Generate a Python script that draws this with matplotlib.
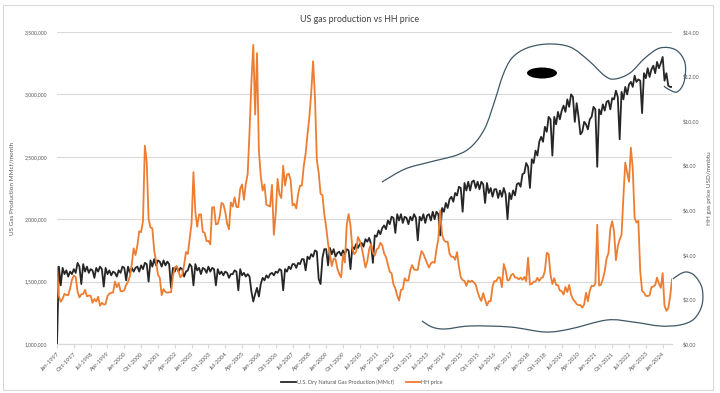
import numpy as np
import pandas as pd
import matplotlib
matplotlib.use("Agg")
import matplotlib.pyplot as plt
from matplotlib.path import Path
from matplotlib.patches import PathPatch, Ellipse, Rectangle
from matplotlib.ticker import FuncFormatter, MultipleLocator

plt.rcParams['font.family'] = ['Lato', 'DejaVu Sans']

# monthly categories Jan-1997 .. Jun-2024
months = pd.date_range("1997-01-01", "2024-06-01", freq="MS")
tick_labels = [d.strftime("%b-%Y") for d in months[::9]]

# U.S. dry natural gas production, thousand MMcf per month
prod_k = [
    1000, 1620, 1470, 1610, 1560, 1590, 1540, 1580, 1560, 1600, 1570, 1650,  # 1997
    1620, 1480, 1640, 1580, 1620, 1570, 1600, 1590, 1530, 1610, 1580, 1620,  # 1998
    1600, 1460, 1610, 1560, 1590, 1550, 1580, 1570, 1540, 1590, 1570, 1620,  # 1999
    1610, 1510, 1620, 1570, 1610, 1580, 1610, 1620, 1580, 1630, 1600, 1650,  # 2000
    1640, 1500, 1670, 1620, 1680, 1630, 1670, 1660, 1620, 1670, 1630, 1660,  # 2001
    1640, 1450, 1610, 1580, 1620, 1580, 1610, 1600, 1540, 1580, 1590, 1640,  # 2002
    1620, 1470, 1640, 1590, 1610, 1560, 1610, 1600, 1570, 1620, 1580, 1610,  # 2003
    1600, 1470, 1600, 1560, 1580, 1550, 1580, 1570, 1530, 1560, 1560, 1590,  # 2004
    1580, 1430, 1600, 1550, 1570, 1540, 1560, 1540, 1420, 1340, 1400, 1450,  # 2005
    1380, 1480, 1530, 1510, 1550, 1530, 1560, 1570, 1550, 1580, 1570, 1600,  # 2006
    1590, 1430, 1600, 1580, 1620, 1600, 1640, 1640, 1610, 1650, 1640, 1680,  # 2007
    1680, 1590, 1700, 1680, 1720, 1700, 1750, 1740, 1520, 1480, 1690, 1760,  # 2008
    1760, 1630, 1770, 1720, 1760, 1700, 1730, 1740, 1710, 1750, 1720, 1760,  # 2009
    1750, 1600, 1780, 1760, 1800, 1770, 1800, 1810, 1780, 1840, 1820, 1850,  # 2010
    1800, 1650, 1870, 1860, 1910, 1880, 1930, 1950, 1920, 1990, 1960, 2020,  # 2011
    2010, 1890, 2040, 1990, 2040, 1970, 2020, 2010, 1960, 2020, 1990, 2040,  # 2012
    2010, 1830, 2020, 1990, 2040, 1970, 2030, 2040, 1990, 2060, 2000, 2060,  # 2013
    2040, 1870, 2090, 2060, 2130, 2090, 2160, 2180, 2140, 2210, 2190, 2260,  # 2014
    2250, 2060, 2290, 2230, 2300, 2230, 2300, 2310, 2250, 2300, 2240, 2300,  # 2015
    2280, 2130, 2290, 2210, 2250, 2180, 2240, 2240, 2170, 2230, 2180, 2250,  # 2016
    2200, 2000, 2210, 2160, 2230, 2190, 2280, 2290, 2260, 2360, 2370, 2450,  # 2017
    2420, 2250, 2480, 2450, 2550, 2510, 2620, 2660, 2620, 2740, 2700, 2820,  # 2018
    2800, 2510, 2820, 2760, 2860, 2800, 2870, 2910, 2860, 2960, 2900, 3000,  # 2019
    2980, 2780, 2930, 2820, 2680, 2700, 2780, 2760, 2720, 2800, 2820, 2900,  # 2020
    2880, 2420, 2880, 2840, 2920, 2870, 2940, 2950, 2880, 2970, 2960, 3030,  # 2021
    2980, 2640, 3020, 2960, 3060, 3000, 3080, 3100, 3060, 3150, 3100, 3120,  # 2022
    3110, 2850, 3170, 3130, 3210, 3140, 3200, 3230, 3170, 3260, 3210, 3250,  # 2023
    3300, 3110, 3170, 3070, 3060, 3060,                                      # 2024
]

# Henry Hub monthly price, USD/mmbtu
hh_price = [
    3.45, 2.15, 1.89, 2.03, 2.25, 2.20, 2.19, 2.49, 2.88, 3.07, 3.01, 2.35,  # 1997
    2.09, 2.23, 2.24, 2.43, 2.14, 2.17, 2.17, 1.85, 2.02, 1.91, 2.12, 1.72,  # 1998
    1.85, 1.77, 1.79, 2.15, 2.26, 2.30, 2.31, 2.80, 2.55, 2.73, 2.37, 2.36,  # 1999
    2.42, 2.66, 2.79, 3.04, 3.59, 4.29, 3.99, 4.43, 5.06, 5.02, 5.52, 8.90,  # 2000
    8.17, 5.61, 5.23, 5.19, 4.19, 3.72, 3.11, 2.97, 2.19, 2.46, 2.34, 2.30,  # 2001
    2.32, 2.32, 3.03, 3.43, 3.50, 3.26, 2.99, 3.09, 3.55, 4.13, 4.04, 4.74,  # 2002
    5.43, 7.71, 5.93, 5.26, 5.81, 5.82, 5.03, 4.99, 4.62, 4.63, 4.47, 6.13,  # 2003
    6.14, 5.37, 5.39, 5.71, 6.33, 6.27, 5.93, 5.41, 5.15, 6.35, 6.17, 6.58,  # 2004
    6.15, 6.14, 6.96, 7.16, 6.47, 7.18, 7.63, 9.53, 11.75, 13.42, 10.30, 13.05,  # 2005
    8.69, 7.54, 6.89, 7.16, 6.25, 6.21, 6.17, 7.14, 4.90, 5.85, 7.41, 6.73,  # 2006
    6.55, 8.00, 7.11, 7.60, 7.64, 7.35, 6.22, 6.29, 6.08, 6.74, 7.10, 7.11,  # 2007
    7.99, 8.54, 9.41, 10.18, 11.27, 12.69, 11.09, 8.26, 7.67, 6.74, 6.68, 5.82,  # 2008
    5.24, 4.52, 4.00, 3.50, 3.83, 3.80, 3.38, 3.14, 2.99, 4.01, 3.66, 5.35,  # 2009
    5.83, 5.32, 4.29, 4.03, 4.14, 4.80, 4.63, 4.32, 3.89, 3.43, 3.71, 4.25,  # 2010
    4.49, 4.09, 3.97, 4.24, 4.31, 4.54, 4.42, 4.06, 3.90, 3.57, 3.24, 3.17,  # 2011
    2.67, 2.50, 2.17, 1.95, 2.43, 2.46, 2.95, 2.84, 2.85, 3.32, 3.54, 3.34,  # 2012
    3.33, 3.33, 3.81, 4.17, 4.04, 3.83, 3.62, 3.43, 3.62, 3.68, 3.64, 4.24,  # 2013
    4.71, 6.00, 4.90, 4.66, 4.58, 4.59, 4.05, 3.91, 3.92, 3.78, 4.12, 3.48,  # 2014
    2.99, 2.87, 2.83, 2.61, 2.85, 2.78, 2.84, 2.77, 2.66, 2.34, 2.09, 1.93,  # 2015
    2.28, 1.99, 1.73, 1.92, 1.92, 2.59, 2.82, 2.82, 2.99, 2.98, 2.55, 3.59,  # 2016
    3.30, 2.85, 2.88, 3.10, 3.15, 2.98, 2.98, 2.90, 2.98, 2.88, 3.01, 2.82,  # 2017
    3.87, 2.67, 2.69, 2.80, 2.80, 2.97, 2.83, 2.96, 3.00, 3.28, 4.09, 4.04,  # 2018
    3.11, 2.69, 2.95, 2.65, 2.64, 2.40, 2.37, 2.22, 2.56, 2.33, 2.65, 2.22,  # 2019
    2.02, 1.91, 1.79, 1.74, 1.75, 1.63, 1.77, 2.30, 1.92, 2.39, 2.61, 2.59,  # 2020
    2.71, 5.35, 2.62, 2.66, 2.91, 3.26, 3.84, 4.07, 5.16, 5.51, 5.05, 3.76,  # 2021
    4.38, 4.69, 4.90, 6.60, 8.14, 7.70, 7.28, 8.81, 7.88, 5.66, 5.45, 5.53,  # 2022
    3.27, 2.38, 2.31, 2.16, 2.15, 2.18, 2.55, 2.58, 2.64, 2.98, 2.71, 2.52,  # 2023
    3.18, 1.72, 1.49, 1.60, 2.12, 2.90,                                      # 2024
]

# hand drawn doodle over the chart, in figure pixels (x right, y down)
doodle_top = [(382, 182), (405, 169), (430, 162), (457, 155), (472, 146), (485, 128),
              (495, 100), (503, 75), (512, 58), (527, 48), (548, 44), (570, 47),
              (588, 60), (605, 76), (615, 79), (630, 73), (645, 58), (660, 48),
              (676, 50), (685, 63), (684, 82), (677, 92), (668, 89), (664, 86)]
doodle_bottom = [(422, 321), (432, 327), (445, 329), (470, 326), (510, 327), (545, 332),
                 (570, 329), (607, 320), (633, 322), (660, 326), (680, 325), (694, 319),
                 (702, 305), (702, 288), (695, 276), (687, 272), (680, 274), (673, 279)]

W, H = 720, 393
PROD_COLOR = '#262626'
PRICE_COLOR = '#ED7D31'
GRID = '#D9D9D9'
TXT = '#595959'


def smooth_path(pts):
    # catmull-rom through the points, as cubic beziers, in figure fractions
    p = np.array([(x / W, 1 - y / H) for x, y in pts])
    verts = [p[0]]
    codes = [Path.MOVETO]
    n = len(p)
    for i in range(n - 1):
        p0, p1 = p[max(i - 1, 0)], p[i]
        p2, p3 = p[i + 1], p[min(i + 2, n - 1)]
        verts += [p1 + (p2 - p0) / 6, p2 - (p3 - p1) / 6, p2]
        codes += [Path.CURVE4] * 3
    return Path(verts, codes)


fig = plt.figure(figsize=(W / 100, H / 100), dpi=100)
ax = fig.add_axes([57 / W, 1 - 344 / H, (672 - 57) / W, (344 - 32) / H])
ax2 = ax.twinx()

x = np.arange(len(months))
prod = np.array(prod_k) * 1000
l1, = ax.plot(x, prod, color=PROD_COLOR, lw=1.3, label='U.S. Dry Natural Gas Production (MMcf)')
l2, = ax2.plot(x, hh_price, color=PRICE_COLOR, lw=1.3, label='HH price')

ax.set_xlim(0, len(months) - 1)
ax.set_ylim(1_000_000, 3_500_000)
ax.yaxis.set_major_locator(MultipleLocator(500_000))
ax.yaxis.set_major_formatter(FuncFormatter(lambda v, _: f"{int(v):,}"))
ax2.set_ylim(0, 14)
ax2.yaxis.set_major_locator(MultipleLocator(2))
ax2.yaxis.set_major_formatter(FuncFormatter(lambda v, _: f"${v:.2f}"))

ax.set_xticks(x[::9])
ax.set_xticklabels(tick_labels, rotation=45, ha='right', rotation_mode='anchor')

ax.grid(axis='y', color=GRID, lw=0.8)
ax.set_axisbelow(True)
for a in (ax, ax2):
    for s in ('top', 'left', 'right'):
        a.spines[s].set_visible(False)
    a.spines['bottom'].set_color(GRID)
    a.spines['bottom'].set_linewidth(0.8)
ax.tick_params(axis='x', length=3, color=GRID, labelsize=4.2, labelcolor=TXT, pad=2)
ax.tick_params(axis='y', length=0, labelsize=3.7, labelcolor=TXT, pad=7)
ax2.tick_params(axis='y', length=0, labelsize=3.9, labelcolor=TXT, pad=8)

ax.set_ylabel('US Gas Production MMcf/month', fontsize=4.6, color=TXT, labelpad=7)
ax2.set_ylabel('HH gas price USD/mmbtu', fontsize=4.6, color=TXT, rotation=90, labelpad=5)

fig.text(0.5, 1 - 19 / H, 'US gas production vs HH price', ha='center', va='center',
         fontsize=6.4, color='#404040')

fig.legend(handles=[l1, l2], loc='center', bbox_to_anchor=(362 / W, 1 - 382 / H),
           ncol=2, frameon=False, fontsize=4.0, labelcolor=TXT, handlelength=2.6,
           handletextpad=0.15, columnspacing=2.2)

# chart border
fig.patches.append(Rectangle((3 / W, 1 - 390 / H), 710 / W, 385 / H, transform=fig.transFigure,
                             fill=False, edgecolor='#D9D9D9', lw=0.8))

# the doodle
for pts in (doodle_top, doodle_bottom):
    fig.patches.append(PathPatch(smooth_path(pts), transform=fig.transFigure, fill=False,
                                 edgecolor='#3E5766', lw=0.9))
fig.patches.append(Ellipse((542 / W, 1 - 73 / H), 30 / W, 11 / H, transform=fig.transFigure,
                           facecolor='black', edgecolor='none'))

fig.savefig('out.png', dpi=100)
